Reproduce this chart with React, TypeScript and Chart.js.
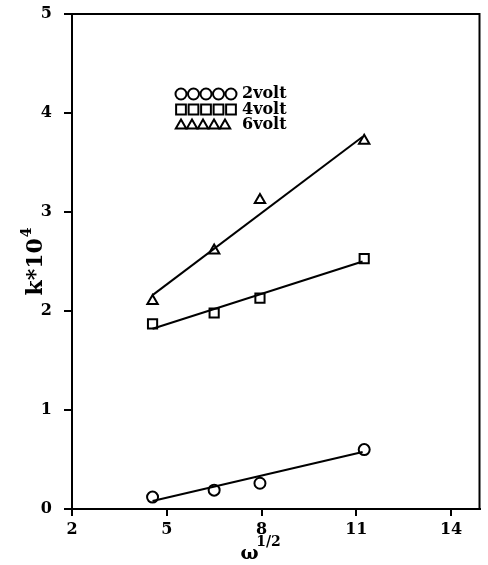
import React, { useEffect, useRef } from "react";
import { Chart, registerables } from "chart.js";
Chart.register(...registerables);

// measured points (x = omega^1/2, y = k*10^4)
const xValues = [4.55, 6.5, 7.95, 11.25];
const volt2 = [0.12, 0.19, 0.26, 0.6];
const volt4 = [1.87, 1.98, 2.13, 2.53];
const volt6 = [2.1, 2.61, 3.12, 3.72];
// fitted straight lines (end points)
const fitX = [4.55, 11.2];
const fit2 = [0.08, 0.575];
const fit4 = [1.82, 2.5];
const fit6 = [2.16, 3.76];
const legendLabels = ["2volt", "4volt", "6volt"];
const legendStyles = ["circle", "rect", "triangle"];
const xTickValues = [2, 5, 8, 11, 14];
const yTickValues = [0, 1, 2, 3, 4, 5];
const yTitleBase = "k*10";
const yTitleExp = "4";

const SERIF = "'DejaVu Serif', serif";

function drawMarker(ctx: CanvasRenderingContext2D, style: string, x: number, y: number, r: number) {
  ctx.beginPath();
  if (style === "circle") {
    ctx.arc(x, y, r, 0, Math.PI * 2);
  } else if (style === "rect") {
    const s = r * Math.SQRT1_2 * 1.15;
    ctx.rect(x - s, y - s, 2 * s, 2 * s);
  } else {
    const h = r * 1.5;
    const w = r * Math.sqrt(3);
    ctx.moveTo(x, y - h * 0.6);
    ctx.lineTo(x + w / 2, y + h * 0.4);
    ctx.lineTo(x - w / 2, y + h * 0.4);
    ctx.closePath();
  }
  ctx.stroke();
}

const extrasPlugin = {
  id: "extras",
  afterDraw(chart: any) {
    const { ctx, chartArea, scales } = chart;
    ctx.save();
    // frame (top & right sides)
    ctx.strokeStyle = "#000";
    ctx.lineWidth = 2;
    ctx.beginPath();
    ctx.moveTo(chartArea.left, chartArea.top);
    ctx.lineTo(chartArea.right, chartArea.top);
    ctx.lineTo(chartArea.right, chartArea.bottom);
    ctx.stroke();

    // legend
    ctx.lineWidth = 2;
    legendLabels.forEach((lab, i) => {
      const y = chartArea.top + 80 + i * 15.5;
      const style = legendStyles[i];
      const step = style === "triangle" ? 11 : 12.5;
      for (let k = 0; k < 5; k++) {
        drawMarker(ctx, style, chartArea.left + 109 + k * step, y, style === "circle" ? 5.5 : 6);
      }
      ctx.fillStyle = "#000";
      ctx.font = `bold 16px ${SERIF}`;
      ctx.textBaseline = "middle";
      ctx.textAlign = "left";
      ctx.fillText(lab, chartArea.left + 170, y);
    });

    // y-axis title: k*10^4 (rotated)
    ctx.save();
    ctx.translate(36, (chartArea.top + chartArea.bottom) / 2);
    ctx.rotate(-Math.PI / 2);
    ctx.fillStyle = "#000";
    ctx.textBaseline = "middle";
    ctx.textAlign = "left";
    ctx.font = `bold 22px ${SERIF}`;
    const w1 = ctx.measureText(yTitleBase).width;
    ctx.font = `bold 14px ${SERIF}`;
    const w2 = ctx.measureText(yTitleExp).width;
    const start = -(w1 + w2 + 1) / 2;
    ctx.font = `bold 22px ${SERIF}`;
    ctx.fillText(yTitleBase, start, 0);
    ctx.font = `bold 14px ${SERIF}`;
    ctx.fillText(yTitleExp, start + w1 + 1, -9);
    ctx.restore();

    // x-axis title: omega^(1/2)
    const x8 = scales.x.getPixelForValue(8);
    ctx.fillStyle = "#000";
    ctx.textAlign = "center";
    ctx.textBaseline = "middle";
    ctx.font = `bold 19px ${SERIF}`;
    ctx.fillText("ω", x8 - 12, chartArea.bottom + 45);
    ctx.font = `bold 14px ${SERIF}`;
    ctx.fillText("1/2", x8 + 7, chartArea.bottom + 33);
    ctx.restore();
  },
};

export default function App() {
  const ref = useRef<HTMLCanvasElement | null>(null);
  useEffect(() => {
    if (!ref.current) return;
    const pts = (ys: number[]) => xValues.map((x, i) => ({ x, y: ys[i] }));
    const line = (ys: number[]) => fitX.map((x, i) => ({ x, y: ys[i] }));
    const markerDs = (label: string, ys: number[], style: string, r: number) => ({
      label,
      data: pts(ys),
      showLine: false,
      pointStyle: style,
      pointRadius: r,
      pointBorderWidth: 2,
      pointBorderColor: "#000",
      pointBackgroundColor: "rgba(0,0,0,0)",
      borderColor: "#000",
    });
    const lineDs = (label: string, ys: number[]) => ({
      label,
      data: line(ys),
      showLine: true,
      pointRadius: 0,
      borderColor: "#000",
      borderWidth: 2,
      fill: false,
    });
    const chart = new Chart(ref.current, {
      type: "scatter",
      data: {
        datasets: [
          lineDs("fit 2volt", fit2),
          lineDs("fit 4volt", fit4),
          lineDs("fit 6volt", fit6),
          markerDs("2volt", volt2, "circle", 5.5),
          markerDs("4volt", volt4, "rect", 6.5),
          markerDs("6volt", volt6, "triangle", 6),
        ] as any,
      },
      options: {
        animation: false,
        responsive: false,
        layout: { padding: { left: 0, top: 14, right: 4, bottom: 0 } },
        plugins: { legend: { display: false }, tooltip: { enabled: false } },
        scales: {
          x: {
            type: "linear",
            min: 2,
            max: 14.9,
            afterFit: (s: any) => {
              s.height = 56;
            },
            afterBuildTicks: (s: any) => {
              s.ticks = xTickValues.map((v) => ({ value: v }));
            },
            ticks: {
              color: "#000",
              font: { family: SERIF, size: 16, weight: "bold" },
              padding: 4,
              maxRotation: 0,
            },
            grid: {
              display: true,
              drawOnChartArea: false,
              drawTicks: true,
              tickLength: 7,
              color: "#000",
              lineWidth: 2,
            },
            border: { display: true, color: "#000", width: 2 },
          },
          y: {
            type: "linear",
            min: 0,
            max: 5,
            afterFit: (s: any) => {
              s.width = 72;
              s.paddingTop = 0;
              s.paddingBottom = 0;
            },
            afterBuildTicks: (s: any) => {
              s.ticks = yTickValues.map((v) => ({ value: v }));
            },
            ticks: {
              color: "#000",
              font: { family: SERIF, size: 16, weight: "bold" },
              padding: 12,
            },
            grid: {
              display: true,
              drawOnChartArea: false,
              drawTicks: true,
              tickLength: 8,
              color: "#000",
              lineWidth: 2,
            },
            border: { display: true, color: "#000", width: 2 },
          },
        },
      } as any,
      plugins: [extrasPlugin],
    });
    return () => chart.destroy();
  }, []);
  return (
    <div style={{ position: "fixed", left: 0, top: 0, width: 488, height: 565, background: "#fff" }}>
      <canvas ref={ref} width={488} height={565} style={{ width: 488, height: 565, display: "block" }} />
    </div>
  );
}
